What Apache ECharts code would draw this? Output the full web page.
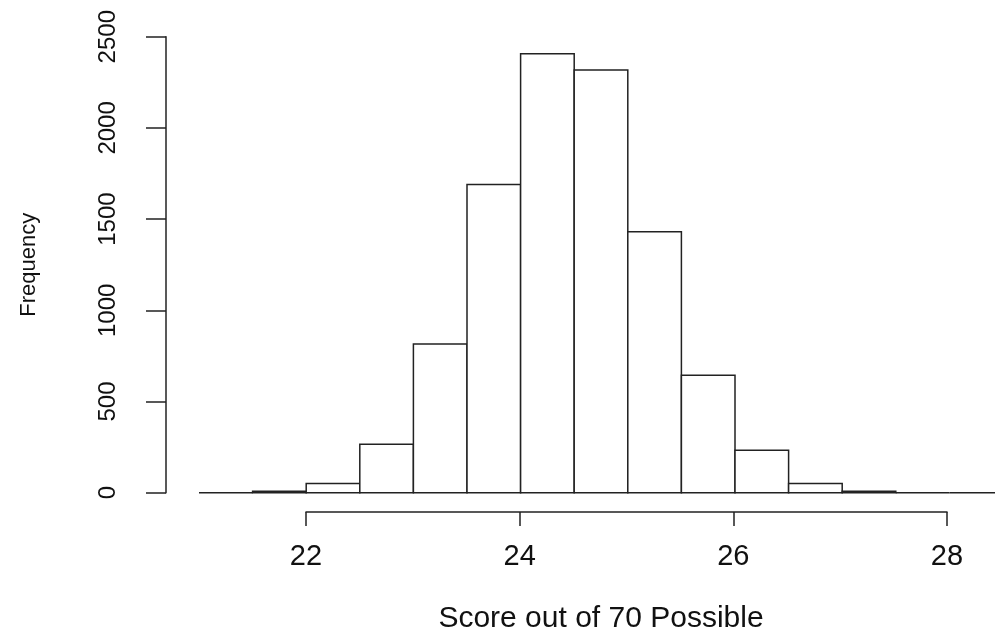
<!DOCTYPE html>
<html>
<head>
<meta charset="utf-8">
<script src="https://cdn.jsdelivr.net/npm/echarts@6/dist/echarts.min.js"></script>
<style>
  html, body { margin: 0; padding: 0; background: #fff; }
  #chart { width: 995px; height: 631px; }
</style>
</head>
<body>
<div id="chart"></div>
<script>
// histogram bins (left edge) and counts
const binLeft = [21, 21.5, 22, 22.5, 23, 23.5, 24, 24.5, 25, 25.5, 26, 26.5, 27, 27.5, 28]
const counts = [0, 8, 51, 266, 815, 1690, 2407, 2317, 1430, 644, 233, 51, 8, 0, 0]
const binWidth = 0.5
const xTicks = [22, 24, 26, 28]
const yTicks = [0, 500, 1000, 1500, 2000, 2500]

const lineColor = '#222'
const textColor = '#111'
const font = '"Liberation Sans", Arial, sans-serif'

let chart = echarts.init(document.getElementById('chart'))

chart.setOption({
  animation: false,
  grid: [
    // plot region
    { left: 199, right: -8, top: 36.7, bottom: 138.3, outerBoundsMode: 'none', containLabel: false },
    // x axis, drawn only between first and last tick like R
    { left: 306, right: 48, top: 511, height: 1, outerBoundsMode: 'none', containLabel: false },
    // y axis
    { left: 166, width: 1, top: 36.7, bottom: 138.3, outerBoundsMode: 'none', containLabel: false }
  ],
  xAxis: [
    {
      type: 'value',
      gridIndex: 0,
      min: 21,
      max: 28.5,
      axisLine: { show: false },
      axisTick: { show: false },
      axisLabel: { show: false },
      splitLine: { show: false },
      name: 'Score out of 70 Possible',
      nameLocation: 'middle',
      nameGap: 111,
      nameTextStyle: { fontFamily: font, fontSize: 30, color: textColor }
    },
    {
      type: 'value',
      gridIndex: 1,
      min: xTicks[0],
      max: xTicks[xTicks.length - 1],
      interval: 2,
      axisLine: { lineStyle: { color: lineColor, width: 1.5 } },
      axisTick: { length: 14, lineStyle: { color: lineColor, width: 1.5 } },
      axisLabel: {
        margin: 30,
        fontFamily: font,
        fontSize: 29,
        color: textColor,
        showMinLabel: true,
        showMaxLabel: true,
        formatter: v => String(v)
      },
      splitLine: { show: false }
    },
    { type: 'value', gridIndex: 2, show: false }
  ],
  yAxis: [
    {
      type: 'value',
      gridIndex: 0,
      min: 0,
      max: 2500,
      axisLine: { show: false },
      axisTick: { show: false },
      axisLabel: { show: false },
      splitLine: { show: false }
    },
    { type: 'value', gridIndex: 1, show: false },
    {
      type: 'value',
      gridIndex: 2,
      min: yTicks[0],
      max: yTicks[yTicks.length - 1],
      interval: 500,
      axisLine: { show: true, lineStyle: { color: lineColor, width: 1.5 } },
      axisTick: { show: true, length: 20, lineStyle: { color: lineColor, width: 1.5 } },
      axisLabel: {
        rotate: 90,
        margin: 46,
        fontFamily: font,
        fontSize: 24,
        color: textColor,
        showMinLabel: true,
        showMaxLabel: true,
        formatter: v => String(v)
      },
      splitLine: { show: false },
      name: 'Frequency',
      nameLocation: 'middle',
      nameRotate: 90,
      nameGap: 126,
      nameTextStyle: { fontFamily: font, fontSize: 22, color: textColor }
    }
  ],
  series: [
    {
      type: 'custom',
      xAxisIndex: 0,
      yAxisIndex: 0,
      data: binLeft.map((l, i) => [l, l + binWidth, counts[i]]),
      renderItem: function (params, api) {
        let p0 = api.coord([api.value(0), 0])
        let p1 = api.coord([api.value(1), api.value(2)])
        return {
          type: 'rect',
          shape: {
            x: p0[0],
            y: p1[1],
            width: p1[0] - p0[0],
            height: p0[1] - p1[1]
          },
          style: { fill: '#fff', stroke: lineColor, lineWidth: 1.5 }
        }
      }
    }
  ]
})
</script>
</body>
</html>
